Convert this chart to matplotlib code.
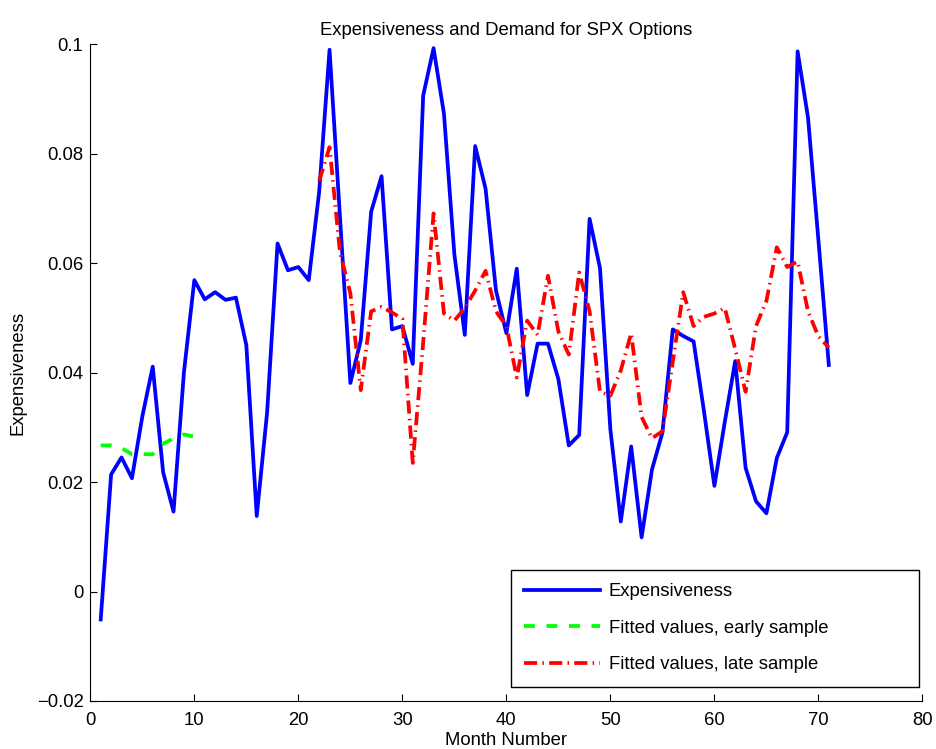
import matplotlib
matplotlib.use("Agg")
import matplotlib.pyplot as plt
import numpy as np

plt.rcParams['font.family'] = ['Liberation Sans', 'DejaVu Sans']

# Expensiveness, months 1..71
months = np.arange(1, 72)
expensiveness = [
    -0.0051, 0.0214, 0.0245, 0.0207, 0.0320, 0.0411, 0.0218, 0.0146, 0.0401, 0.0569,
    0.0534, 0.0547, 0.0533, 0.0537, 0.0450, 0.0138, 0.0328, 0.0636, 0.0587, 0.0593,
    0.0569, 0.0730, 0.0990, 0.0685, 0.0381, 0.0459, 0.0694, 0.0759, 0.0479, 0.0485,
    0.0416, 0.0906, 0.0993, 0.0873, 0.0616, 0.0469, 0.0814, 0.0736, 0.0550, 0.0472,
    0.0590, 0.0359, 0.0453, 0.0453, 0.0388, 0.0267, 0.0286, 0.0681, 0.0591, 0.0296,
    0.0128, 0.0265, 0.0099, 0.0223, 0.0290, 0.0479, 0.0467, 0.0457, 0.0329, 0.0193,
    0.0310, 0.0421, 0.0226, 0.0165, 0.0143, 0.0244, 0.0291, 0.0987, 0.0866, 0.0642,
    0.0414,
]

# fitted values, early sample (months 1..10)
early_months = np.arange(1, 11)
early_fit = [0.0267, 0.0267, 0.0262, 0.0251, 0.0251, 0.0251, 0.0270, 0.0280, 0.0287, 0.0283]

# fitted values, late sample (months 22..71)
late_months = np.arange(22, 72)
late_fit = [
    0.0750, 0.0812, 0.0620, 0.0545, 0.0368, 0.0512, 0.0520, 0.0510, 0.0498, 0.0235,
    0.0455, 0.0691, 0.0508, 0.0495, 0.0518, 0.0550, 0.0586, 0.0512, 0.0485, 0.0391,
    0.0495, 0.0469, 0.0577, 0.0475, 0.0433, 0.0583, 0.0512, 0.0365, 0.0358, 0.0404,
    0.0472, 0.0319, 0.0280, 0.0293, 0.0420, 0.0547, 0.0485, 0.0502, 0.0508, 0.0518,
    0.0443, 0.0365, 0.0485, 0.0531, 0.0629, 0.0593, 0.0603, 0.0512, 0.0466, 0.0446,
]

xticks = [0, 10, 20, 30, 40, 50, 60, 70, 80]
yticks = [-0.02, 0, 0.02, 0.04, 0.06, 0.08, 0.1]
ytick_labels = ['\u22120.02', '0', '0.02', '0.04', '0.06', '0.08', '0.1']

fs = 13.3
lw = 2.7

fig = plt.figure(figsize=(9.36, 7.49), dpi=100)
ax = fig.add_axes([0.0965, 0.0641, 0.889, 0.8768])

ax.plot(months, expensiveness, color=(0, 0, 1), lw=lw, label='Expensiveness')
ax.plot(early_months, early_fit, color=(0, 1, 0), lw=lw, dashes=(2.9, 3.1),
        label='Fitted values, early sample')
ax.plot(late_months, late_fit, color=(1, 0, 0), lw=lw, dashes=(3.5, 1.4, 0.4, 1.4),
        label='Fitted values, late sample')

ax.set_xlim(0, 80)
ax.set_ylim(-0.02, 0.1)
ax.set_xticks(xticks)
ax.set_xticklabels([str(t) for t in xticks])
ax.set_yticks(yticks)
ax.set_yticklabels(ytick_labels)
ax.tick_params(direction='in', length=5, width=0.8, labelsize=fs)
ax.tick_params(axis='x', pad=8)
ax.tick_params(axis='y', pad=5)
ax.spines['top'].set_visible(False)
ax.spines['right'].set_visible(False)

ax.set_title('Expensiveness and Demand for SPX Options', fontsize=fs, pad=7)
ax.set_xlabel('Month Number', fontsize=fs, labelpad=2)
ax.set_ylabel('Expensiveness', fontsize=fs, labelpad=7)

leg = ax.legend(loc='lower left', bbox_to_anchor=(0.505, 0.0218, 0.491, 0.176),
                mode='expand', borderaxespad=0, fontsize=fs, handlelength=4.1,
                handletextpad=0.5, labelspacing=1.06, borderpad=0.72,
                fancybox=False, framealpha=1, edgecolor='black')
leg.get_frame().set_linewidth(1.0)

fig.savefig('out.png', dpi=100)
